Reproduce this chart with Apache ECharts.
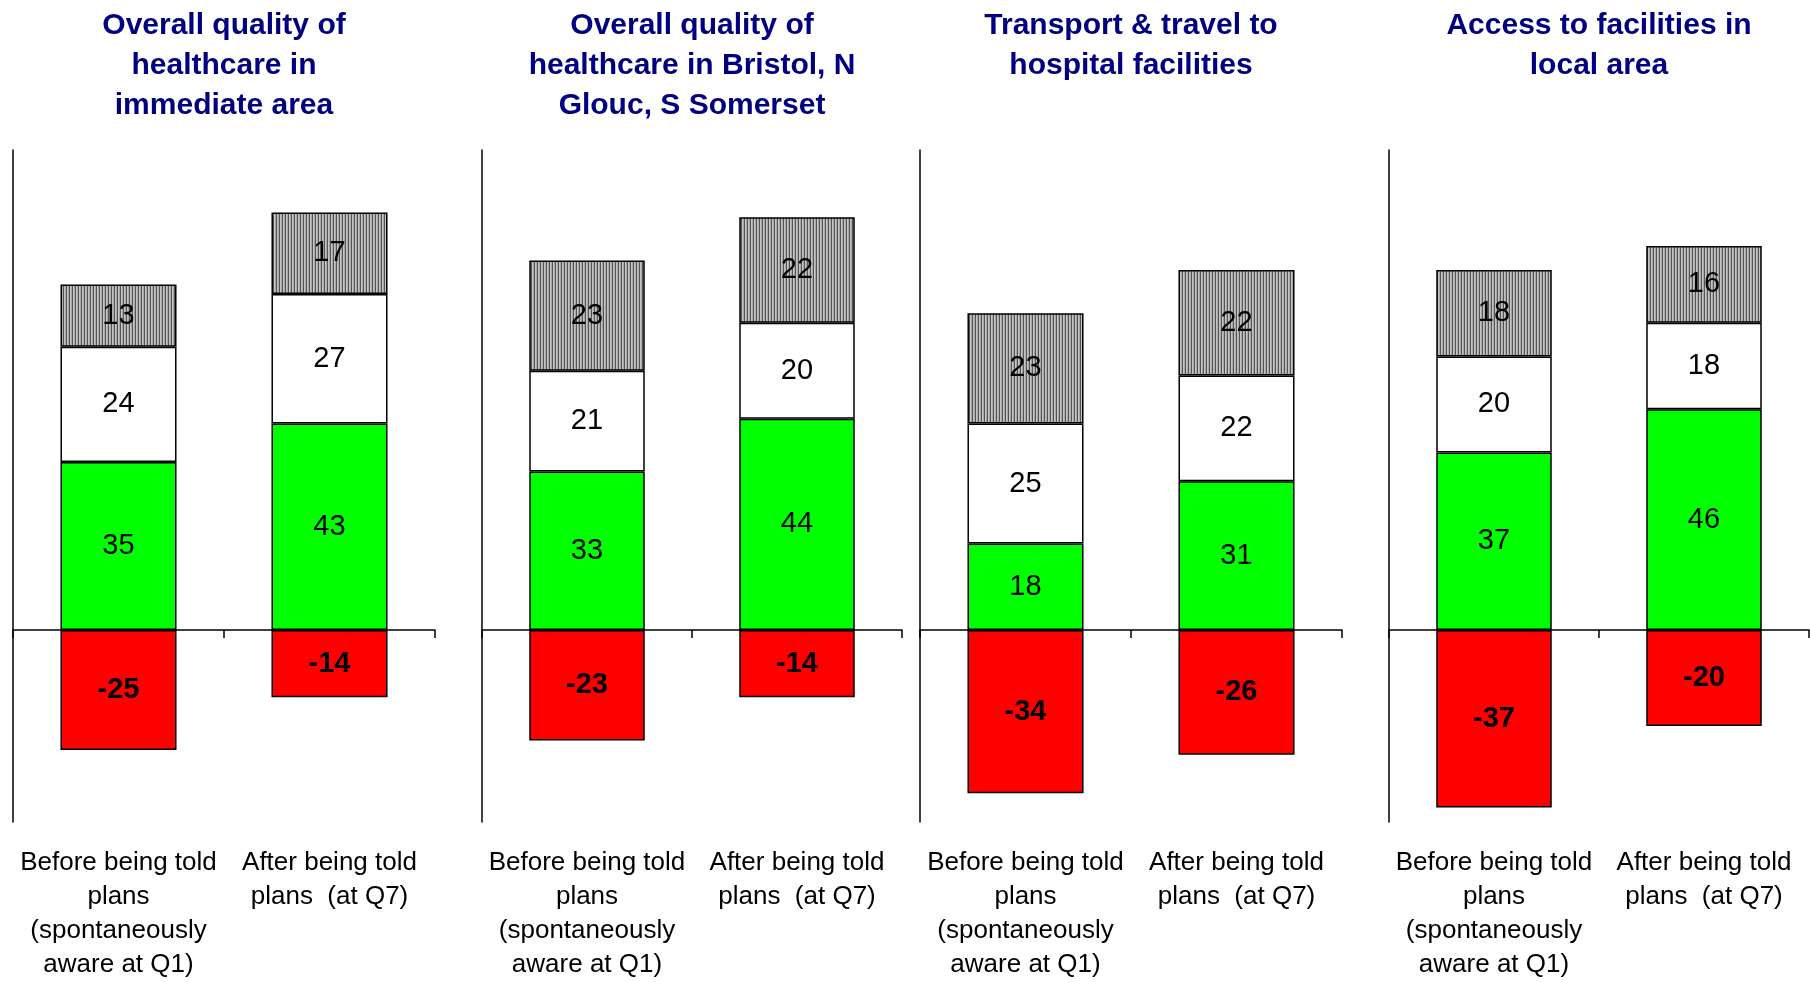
<!DOCTYPE html>
<html>
<head>
<meta charset="utf-8">
<script src="https://cdn.jsdelivr.net/npm/echarts@6/dist/echarts.min.js"></script>
<style>
html,body{margin:0;padding:0;background:#fff;}
#chart{width:1810px;height:982px;}
</style>
</head>
<body>
<div id="chart"></div>
<script>
// ---- data ----
const categories = ['Before being told\nplans\n(spontaneously\naware at Q1)', 'After being told\nplans  (at Q7)'];
const panelTitles = [
  'Overall quality of\nhealthcare in\nimmediate area',
  'Overall quality of\nhealthcare in Bristol, N\nGlouc, S Somerset',
  'Transport & travel to\nhospital facilities',
  'Access to facilities in\nlocal area'
];
const negativeValues = [[-25, -14], [-23, -14], [-34, -26], [-37, -20]];
const positiveValues = [[35, 43], [33, 44], [18, 31], [37, 46]];
const neutralValues = [[24, 27], [21, 20], [25, 22], [20, 18]];
const otherValues = [[13, 17], [23, 22], [23, 22], [18, 16]];

// ---- layout ----
const gridLefts = [13, 482, 920, 1389];
const gridWidths = [422, 420, 422, 420];
const gridTop = 150, gridHeight = 678;
const FONT = 'Liberation Sans, Arial, sans-serif';

// hatch pattern
const pc = document.createElement('canvas');
pc.width = 3; pc.height = 4;
const pctx = pc.getContext('2d');
pctx.fillStyle = '#c4c4c4'; pctx.fillRect(0, 0, 3, 4);
pctx.fillStyle = '#555555'; pctx.fillRect(0, 0, 1, 4);
pctx.fillStyle = '#a8a8a8'; pctx.fillRect(2, 0, 1, 4);

const chart = echarts.init(document.getElementById('chart'), null, {renderer: 'canvas'});

const grids = [], xAxes = [], yAxes = [], series = [], titles = [];
for (let i = 0; i < 4; i++) {
  grids.push({left: gridLefts[i], top: gridTop, width: gridWidths[i], height: gridHeight, containLabel: false});
  titles.push({
    text: panelTitles[i], left: gridLefts[i] + gridWidths[i] / 2, top: 6, textAlign: 'center', padding: 0,
    textStyle: {fontFamily: FONT, fontSize: 30, fontWeight: 'bold', color: '#000080', lineHeight: 40}
  });
  // zero line axis
  xAxes.push({
    type: 'category', gridIndex: i, data: categories, position: 'top',
    axisLine: {show: true, onZero: true, lineStyle: {color: '#000', width: 1.5}},
    axisTick: {show: true, inside: true, length: 8, lineStyle: {color: '#000', width: 1.5}},
    axisLabel: {show: false}, splitLine: {show: false}
  });
  // label axis
  xAxes.push({
    type: 'category', gridIndex: i, data: categories, position: 'bottom',
    axisLine: {show: false, onZero: false}, axisTick: {show: false}, splitLine: {show: false},
    axisLabel: {show: true, interval: 0, margin: 24, fontFamily: FONT, fontSize: 26, lineHeight: 34, color: '#000', align: 'center'}
  });
  yAxes.push({
    type: 'value', gridIndex: i, min: -40, max: 100,
    axisLine: {show: true, lineStyle: {color: '#000', width: 1.5}},
    axisTick: {show: false}, axisLabel: {show: false}, splitLine: {show: false}
  });
  const base = {
    type: 'bar', xAxisIndex: i * 2, yAxisIndex: i, stack: 'p' + i, barWidth: '55%',
    animation: false
  };
  const lbl = {show: true, position: 'inside', fontFamily: FONT, fontSize: 29, color: '#000'};
  series.push(Object.assign({}, base, {
    name: 'Negative', data: negativeValues[i],
    itemStyle: {color: '#ff0000', borderColor: '#000', borderWidth: 1.5},
    label: Object.assign({}, lbl, {fontWeight: 'bold'})
  }));
  series.push(Object.assign({}, base, {
    name: 'Positive', data: positiveValues[i],
    itemStyle: {color: '#00ff00', borderColor: '#000', borderWidth: 1.5},
    label: lbl
  }));
  series.push(Object.assign({}, base, {
    name: 'Neutral', data: neutralValues[i],
    itemStyle: {color: '#ffffff', borderColor: '#000', borderWidth: 1.5},
    label: lbl
  }));
  series.push(Object.assign({}, base, {
    name: 'Other', data: otherValues[i],
    itemStyle: {color: {image: pc, repeat: 'repeat'}, borderColor: '#000', borderWidth: 1.5},
    label: lbl
  }));
}

chart.setOption({
  backgroundColor: '#fff',
  animation: false,
  title: titles,
  grid: grids,
  xAxis: xAxes,
  yAxis: yAxes,
  series: series
});
</script>
</body>
</html>
